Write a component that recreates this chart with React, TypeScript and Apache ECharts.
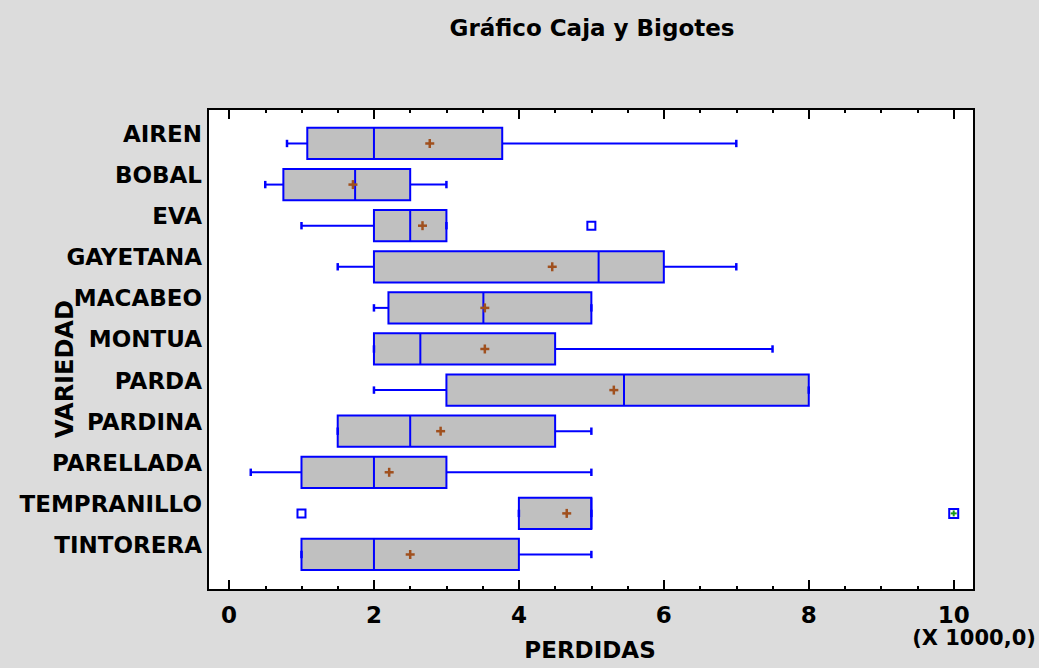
import React, { useEffect, useRef } from "react";
import * as echarts from "echarts";

// Grape varieties, listed top to bottom
const categories = [
  "AIREN",
  "BOBAL",
  "EVA",
  "GAYETANA",
  "MACABEO",
  "MONTUA",
  "PARDA",
  "PARDINA",
  "PARELLADA",
  "TEMPRANILLO",
  "TINTORERA",
];

// Box-and-whisker statistics for PERDIDAS (x 1000)
const whiskerLow = [0.8, 0.5, 1.0, 1.5, 2.0, 2.0, 2.0, 1.5, 0.3, 4.0, 1.0];
const quartile1 = [1.08, 0.75, 2.0, 2.0, 2.2, 2.0, 3.0, 1.5, 1.0, 4.0, 1.0];
const medians = [2.0, 1.74, 2.5, 5.1, 3.51, 2.64, 5.45, 2.5, 2.0, 5.0, 2.0];
const quartile3 = [3.77, 2.5, 3.0, 6.0, 5.0, 4.5, 8.0, 4.5, 3.0, 5.0, 4.0];
const whiskerHigh = [7.0, 3.0, 3.0, 7.0, 5.0, 7.5, 8.0, 5.0, 5.0, 5.0, 5.0];
const means = [2.77, 1.71, 2.67, 4.46, 3.53, 3.53, 5.31, 2.92, 2.21, 4.66, 2.5];

// Outliers as [category index, value]
const outliers: [number, number][] = [
  [2, 5.0],
  [9, 1.0],
];
const farOutliers: [number, number][] = [[9, 10.0]];

// Axis ticks
const xTickLabels = [0, 2, 4, 6, 8, 10];
const xMinorTicks = [0.5, 1, 1.5, 2.5, 3, 3.5, 4.5, 5, 5.5, 6.5, 7, 7.5, 8.5, 9, 9.5];

const X_MIN = -0.29;
const X_MAX = 10.28;
const Y_MIN = -0.839;
const Y_MAX = 10.864;
// category labels sit a little above their rows
const LABEL_SHIFT = 0.231;

const FONT = "DejaVu Sans";
const BLUE = "#0000ff";
const BROWN = "#a0501e";

export default function App() {
  const ref = useRef<HTMLDivElement>(null);

  useEffect(() => {
    if (!ref.current) return;
    const chart = echarts.init(ref.current, undefined, { renderer: "svg" });

    const boxData = categories.map((_, i) => [
      i,
      whiskerLow[i],
      quartile1[i],
      medians[i],
      quartile3[i],
      whiskerHigh[i],
      means[i],
    ]);

    const xAxisBase = {
      type: "value",
      min: X_MIN,
      max: X_MAX,
      axisLine: { show: false, onZero: false },
      splitLine: { show: false },
    };

    const majorTick = {
      show: true,
      inside: true,
      length: 10,
      customValues: xTickLabels,
      lineStyle: { color: "#000", width: 2 },
    };
    const minorTick = {
      show: true,
      inside: true,
      length: 4,
      customValues: xMinorTicks,
      lineStyle: { color: "#000", width: 2 },
    };

    const option: any = {
      animation: false,
      backgroundColor: "#dcdcdc",
      grid: {
        left: 208,
        top: 109,
        width: 766,
        height: 481,
        show: true,
        backgroundColor: "#ffffff",
        borderColor: "#000000",
        borderWidth: 2,
      },
      xAxis: [
        {
          ...xAxisBase,
          position: "bottom",
          axisTick: majorTick,
          axisLabel: {
            customValues: xTickLabels,
            margin: 13,
            color: "#000",
            fontFamily: FONT,
            fontWeight: "bold",
            fontSize: 23,
          },
        },
        { ...xAxisBase, position: "bottom", axisTick: minorTick, axisLabel: { show: false } },
        { ...xAxisBase, position: "top", axisTick: majorTick, axisLabel: { show: false } },
        { ...xAxisBase, position: "top", axisTick: minorTick, axisLabel: { show: false } },
      ],
      yAxis: [
        {
          type: "value",
          inverse: true,
          min: Y_MIN,
          max: Y_MAX,
          axisLine: { show: false, onZero: false },
          axisTick: { show: false },
          splitLine: { show: false },
          axisLabel: { show: false },
        },
        {
          type: "value",
          position: "left",
          inverse: true,
          min: Y_MIN + LABEL_SHIFT,
          max: Y_MAX + LABEL_SHIFT,
          axisLine: { show: false, onZero: false },
          axisTick: { show: false },
          splitLine: { show: false },
          axisLabel: {
            customValues: categories.map((_, i) => i),
            formatter: (v: number) => categories[Math.round(v)] ?? "",
            margin: 6,
            color: "#000",
            fontFamily: FONT,
            fontWeight: "bold",
            fontSize: 23,
          },
        },
      ],
      graphic: [
        {
          type: "text",
          x: 592,
          y: 28,
          style: {
            text: "Gráfico Caja y Bigotes",
            fill: "#000",
            font: `bold 23px "${FONT}"`,
            textAlign: "center",
            textVerticalAlign: "middle",
          },
        },
        {
          type: "text",
          x: 590,
          y: 650,
          style: {
            text: "PERDIDAS",
            fill: "#000",
            font: `bold 23px "${FONT}"`,
            textAlign: "center",
            textVerticalAlign: "middle",
          },
        },
        {
          type: "text",
          x: 974,
          y: 638,
          style: {
            text: "(X 1000,0)",
            fill: "#000",
            font: `bold 21px "${FONT}"`,
            textAlign: "center",
            textVerticalAlign: "middle",
          },
        },
        {
          type: "text",
          x: 65,
          y: 369,
          rotation: Math.PI / 2,
          style: {
            text: "VARIEDAD",
            fill: "#000",
            font: `bold 24px "${FONT}"`,
            textAlign: "center",
            textVerticalAlign: "middle",
          },
        },
      ],
      series: [
        {
          type: "custom",
          xAxisIndex: 0,
          yAxisIndex: 0,
          data: boxData,
          encode: { x: [1, 2, 3, 4, 5, 6], y: 0 },
          renderItem: (_params: any, api: any) => {
            const idx = api.value(0);
            const lo = api.value(1);
            const b1 = api.value(2);
            const md = api.value(3);
            const b3 = api.value(4);
            const hi = api.value(5);
            const mn = api.value(6);
            const yc = api.coord([0, idx])[1];
            const band = api.size([0, 1])[1];
            const half = (band * 0.76) / 2;
            const px = (v: number) => api.coord([v, idx])[0];
            const lineStyle = { stroke: BLUE, lineWidth: 2 };
            const capHalf = 3.7;
            const children: any[] = [];
            if (lo < b1) {
              children.push({
                type: "line",
                shape: { x1: px(lo), y1: yc, x2: px(b1), y2: yc },
                style: lineStyle,
              });
            }
            if (hi > b3) {
              children.push({
                type: "line",
                shape: { x1: px(b3), y1: yc, x2: px(hi), y2: yc },
                style: lineStyle,
              });
            }
            children.push({
              type: "rect",
              shape: { x: px(b1), y: yc - half, width: px(b3) - px(b1), height: half * 2 },
              style: { fill: "#c0c0c0", stroke: BLUE, lineWidth: 2 },
            });
            children.push({
              type: "line",
              shape: { x1: px(md), y1: yc - half, x2: px(md), y2: yc + half },
              style: lineStyle,
            });
            [lo, hi].forEach((v) => {
              children.push({
                type: "line",
                shape: { x1: px(v), y1: yc - capHalf, x2: px(v), y2: yc + capHalf },
                style: { stroke: BLUE, lineWidth: 2.5 },
              });
            });
            const mx = px(mn);
            children.push(
              {
                type: "line",
                shape: { x1: mx - 4.5, y1: yc, x2: mx + 4.5, y2: yc },
                style: { stroke: BROWN, lineWidth: 2.5 },
              },
              {
                type: "line",
                shape: { x1: mx, y1: yc - 4.5, x2: mx, y2: yc + 4.5 },
                style: { stroke: BROWN, lineWidth: 2.5 },
              }
            );
            return { type: "group", children };
          },
        },
        {
          type: "scatter",
          xAxisIndex: 0,
          yAxisIndex: 0,
          data: outliers.map(([i, v]) => [v, i]),
          symbol: "rect",
          symbolSize: 8,
          itemStyle: { color: "#ffffff", borderColor: BLUE, borderWidth: 2, opacity: 1 },
        },
        {
          type: "custom",
          xAxisIndex: 0,
          yAxisIndex: 0,
          data: farOutliers.map(([i, v]) => [v, i]),
          encode: { x: 0, y: 1 },
          renderItem: (_params: any, api: any) => {
            const [cx, cy] = api.coord([api.value(0), api.value(1)]);
            return {
              type: "group",
              children: [
                {
                  type: "rect",
                  shape: { x: cx - 4.5, y: cy - 4.5, width: 9, height: 9 },
                  style: { fill: "#ffffff", stroke: BLUE, lineWidth: 2 },
                },
                {
                  type: "line",
                  shape: { x1: cx - 3, y1: cy, x2: cx + 3, y2: cy },
                  style: { stroke: "#1a9a1a", lineWidth: 2 },
                },
                {
                  type: "line",
                  shape: { x1: cx, y1: cy - 3, x2: cx, y2: cy + 3 },
                  style: { stroke: "#1a9a1a", lineWidth: 2 },
                },
              ],
            };
          },
        },
      ],
    };

    chart.setOption(option);
    return () => chart.dispose();
  }, []);

  return (
    <div
      ref={ref}
      style={{
        position: "fixed",
        left: 0,
        top: 0,
        width: 1039,
        height: 668,
        background: "#dcdcdc",
      }}
    />
  );
}
